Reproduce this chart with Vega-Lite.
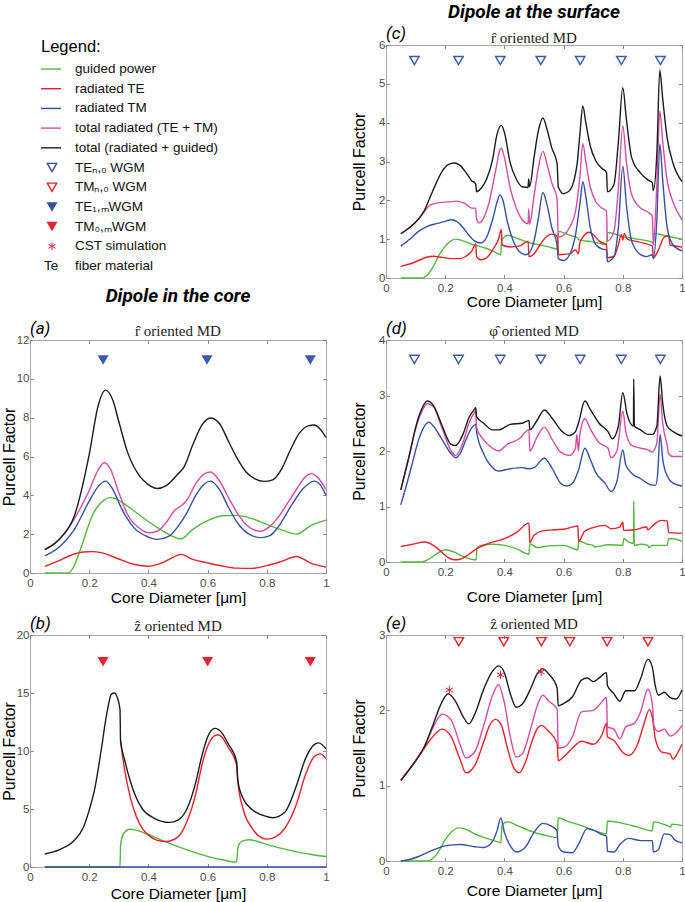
{
"$schema": "https://vega.github.io/schema/vega-lite/v6.json",
"padding": {"left": 0, "top": 2, "right": 0, "bottom": 0},
"background": "white",
"columns": 2,
"bounds": "flush",
"spacing": {"row": 62, "column": 60},
"config": {
  "view": {"stroke": "#a8a8a8", "strokeWidth": 1},
  "axis": {"grid": false, "domain": false, "ticks": true, "tickSize": -3.5, "tickColor": "#8a8a8a", "tickWidth": 1, "labelFont": "Liberation Sans", "labelFontSize": 11.5, "labelColor": "#4d4d4d", "labelPadding": 8, "labelFlush": false, "labelOverlap": false, "titleFont": "Liberation Sans", "titleFontSize": 15.5, "titleFontWeight": "normal", "titleColor": "#000"},
  "axisY": {"titleFontSize": 16, "labelPadding": 4.5},
  "line": {"interpolate": "monotone", "strokeWidth": 1.4},
  "text": {"font": "Liberation Sans"}
},
"datasets": {
"leg": [
{"k":0,"label":"Legend:","kind":"head","c":"k"},
{"k":1,"label":"guided power","kind":"line","c":"g"},
{"k":2,"label":"radiated TE","kind":"line","c":"r"},
{"k":3,"label":"radiated TM","kind":"line","c":"b"},
{"k":4,"label":"total radiated  (TE + TM)","kind":"line","c":"m"},
{"k":5,"label":"total (radiated + guided)","kind":"line","c":"k"},
{"k":6,"label":"TEₙ,₀ WGM","kind":"open","c":"b"},
{"k":7,"label":"TMₙ,₀ WGM","kind":"open","c":"r"},
{"k":8,"label":"TE₁,ₘWGM","kind":"fill","c":"b"},
{"k":9,"label":"TM₀,ₘWGM","kind":"fill","c":"r"},
{"k":10,"label":"CST simulation","kind":"ast","c":"r"},
{"k":11,"label":"fiber material","kind":"te","c":"k"}
],
"c": [
{"s":"g","x":0.05,"y":0},{"s":"g","x":0.12,"y":0},{"s":"g","x":0.14,"y":0.08},{"s":"g","x":0.16,"y":0.3},{"s":"g","x":0.18,"y":0.6},{"s":"g","x":0.2,"y":0.82},{"s":"g","x":0.22,"y":0.96},{"s":"g","x":0.235,"y":1.0},{"s":"g","x":0.25,"y":0.98},{"s":"g","x":0.27,"y":0.93},{"s":"g","x":0.29,"y":0.87},{"s":"g","x":0.305,"y":0.84},{"s":"g","x":0.34,"y":0.76},{"s":"g","x":0.37,"y":0.66},{"s":"g","x":0.388,"y":0.6},{"s":"g","x":0.39,"y":0.95},{"s":"g","x":0.4,"y":1.05},{"s":"g","x":0.41,"y":1.1},{"s":"g","x":0.45,"y":1.0},{"s":"g","x":0.48,"y":0.92},{"s":"g","x":0.52,"y":0.85},{"s":"g","x":0.55,"y":0.8},{"s":"g","x":0.578,"y":0.75},{"s":"g","x":0.582,"y":1.2},{"s":"g","x":0.62,"y":1.1},{"s":"g","x":0.648,"y":1.03},{"s":"g","x":0.652,"y":0.98},{"s":"g","x":0.7,"y":0.93},{"s":"g","x":0.745,"y":0.86},{"s":"g","x":0.748,"y":1.17},{"s":"g","x":0.8,"y":1.07},{"s":"g","x":0.85,"y":1.0},{"s":"g","x":0.9,"y":0.92},{"s":"g","x":0.903,"y":0.88},{"s":"g","x":0.906,"y":1.15},{"s":"g","x":0.95,"y":1.08},{"s":"g","x":1.0,"y":1.0},
{"s":"r","x":0.05,"y":0.3},{"s":"r","x":0.08,"y":0.36},{"s":"r","x":0.11,"y":0.45},{"s":"r","x":0.14,"y":0.54},{"s":"r","x":0.16,"y":0.56},{"s":"r","x":0.19,"y":0.53},{"s":"r","x":0.22,"y":0.5},{"s":"r","x":0.25,"y":0.5},{"s":"r","x":0.27,"y":0.56},{"s":"r","x":0.29,"y":0.7},{"s":"r","x":0.303,"y":0.88},{"s":"r","x":0.306,"y":0.55},{"s":"r","x":0.32,"y":0.47},{"s":"r","x":0.34,"y":0.52},{"s":"r","x":0.36,"y":0.72},{"s":"r","x":0.38,"y":1.0},{"s":"r","x":0.39,"y":1.25},{"s":"r","x":0.392,"y":0.85},{"s":"r","x":0.42,"y":0.8},{"s":"r","x":0.45,"y":0.82},{"s":"r","x":0.48,"y":0.95},{"s":"r","x":0.483,"y":0.55},{"s":"r","x":0.5,"y":0.62},{"s":"r","x":0.52,"y":0.85},{"s":"r","x":0.54,"y":1.05},{"s":"r","x":0.56,"y":1.13},{"s":"r","x":0.575,"y":1.1},{"s":"r","x":0.58,"y":1.0},{"s":"r","x":0.583,"y":0.6},{"s":"r","x":0.62,"y":0.62},{"s":"r","x":0.64,"y":0.72},{"s":"r","x":0.645,"y":0.68},{"s":"r","x":0.65,"y":0.62},{"s":"r","x":0.655,"y":0.9},{"s":"r","x":0.67,"y":1.1},{"s":"r","x":0.685,"y":1.18},{"s":"r","x":0.7,"y":1.12},{"s":"r","x":0.72,"y":0.95},{"s":"r","x":0.745,"y":0.85},{"s":"r","x":0.748,"y":0.52},{"s":"r","x":0.77,"y":0.56},{"s":"r","x":0.785,"y":0.85},{"s":"r","x":0.795,"y":1.12},{"s":"r","x":0.8,"y":0.98},{"s":"r","x":0.805,"y":1.15},{"s":"r","x":0.815,"y":1.0},{"s":"r","x":0.84,"y":0.95},{"s":"r","x":0.87,"y":0.9},{"s":"r","x":0.9,"y":0.82},{"s":"r","x":0.903,"y":0.52},{"s":"r","x":0.92,"y":0.72},{"s":"r","x":0.94,"y":1.05},{"s":"r","x":0.955,"y":1.08},{"s":"r","x":0.96,"y":0.85},{"s":"r","x":1.0,"y":0.8},
{"s":"b","x":0.05,"y":0.82},{"s":"b","x":0.08,"y":1.0},{"s":"b","x":0.11,"y":1.2},{"s":"b","x":0.14,"y":1.33},{"s":"b","x":0.17,"y":1.4},{"s":"b","x":0.2,"y":1.46},{"s":"b","x":0.22,"y":1.5},{"s":"b","x":0.24,"y":1.45},{"s":"b","x":0.26,"y":1.3},{"s":"b","x":0.28,"y":1.1},{"s":"b","x":0.3,"y":0.95},{"s":"b","x":0.32,"y":0.9},{"s":"b","x":0.34,"y":1.05},{"s":"b","x":0.36,"y":1.5},{"s":"b","x":0.375,"y":1.95},{"s":"b","x":0.385,"y":2.14},{"s":"b","x":0.395,"y":2.0},{"s":"b","x":0.41,"y":1.45},{"s":"b","x":0.43,"y":0.95},{"s":"b","x":0.45,"y":0.68},{"s":"b","x":0.47,"y":0.6},{"s":"b","x":0.48,"y":0.62},{"s":"b","x":0.5,"y":0.95},{"s":"b","x":0.515,"y":1.55},{"s":"b","x":0.53,"y":2.2},{"s":"b","x":0.545,"y":1.85},{"s":"b","x":0.56,"y":1.3},{"s":"b","x":0.578,"y":0.85},{"s":"b","x":0.582,"y":0.5},{"s":"b","x":0.6,"y":0.45},{"s":"b","x":0.62,"y":0.6},{"s":"b","x":0.64,"y":1.1},{"s":"b","x":0.655,"y":1.9},{"s":"b","x":0.665,"y":2.48},{"s":"b","x":0.675,"y":2.1},{"s":"b","x":0.69,"y":1.3},{"s":"b","x":0.71,"y":0.85},{"s":"b","x":0.73,"y":0.75},{"s":"b","x":0.745,"y":0.72},{"s":"b","x":0.748,"y":0.42},{"s":"b","x":0.77,"y":0.55},{"s":"b","x":0.785,"y":1.3},{"s":"b","x":0.8,"y":2.88},{"s":"b","x":0.812,"y":1.9},{"s":"b","x":0.83,"y":0.95},{"s":"b","x":0.86,"y":0.6},{"s":"b","x":0.88,"y":0.55},{"s":"b","x":0.9,"y":0.6},{"s":"b","x":0.903,"y":0.5},{"s":"b","x":0.915,"y":1.5},{"s":"b","x":0.925,"y":3.45},{"s":"b","x":0.935,"y":2.5},{"s":"b","x":0.95,"y":1.3},{"s":"b","x":0.97,"y":0.85},{"s":"b","x":1.0,"y":0.7},
{"s":"m","x":0.05,"y":1.14},{"s":"m","x":0.08,"y":1.3},{"s":"m","x":0.11,"y":1.52},{"s":"m","x":0.13,"y":1.72},{"s":"m","x":0.15,"y":1.88},{"s":"m","x":0.18,"y":1.94},{"s":"m","x":0.21,"y":1.96},{"s":"m","x":0.24,"y":1.98},{"s":"m","x":0.27,"y":1.9},{"s":"m","x":0.29,"y":1.8},{"s":"m","x":0.303,"y":1.8},{"s":"m","x":0.306,"y":1.52},{"s":"m","x":0.315,"y":1.42},{"s":"m","x":0.33,"y":1.55},{"s":"m","x":0.35,"y":2.0},{"s":"m","x":0.37,"y":2.75},{"s":"m","x":0.385,"y":3.3},{"s":"m","x":0.39,"y":3.34},{"s":"m","x":0.4,"y":3.1},{"s":"m","x":0.42,"y":2.3},{"s":"m","x":0.44,"y":1.8},{"s":"m","x":0.46,"y":1.5},{"s":"m","x":0.48,"y":1.4},{"s":"m","x":0.482,"y":1.78},{"s":"m","x":0.485,"y":1.38},{"s":"m","x":0.5,"y":2.1},{"s":"m","x":0.515,"y":2.85},{"s":"m","x":0.53,"y":3.26},{"s":"m","x":0.545,"y":2.9},{"s":"m","x":0.56,"y":2.45},{"s":"m","x":0.578,"y":2.05},{"s":"m","x":0.582,"y":1.05},{"s":"m","x":0.6,"y":1.1},{"s":"m","x":0.62,"y":1.3},{"s":"m","x":0.64,"y":1.7},{"s":"m","x":0.655,"y":2.6},{"s":"m","x":0.665,"y":3.46},{"s":"m","x":0.675,"y":3.0},{"s":"m","x":0.69,"y":2.35},{"s":"m","x":0.71,"y":1.95},{"s":"m","x":0.73,"y":1.8},{"s":"m","x":0.745,"y":1.72},{"s":"m","x":0.748,"y":0.95},{"s":"m","x":0.77,"y":1.2},{"s":"m","x":0.785,"y":2.3},{"s":"m","x":0.8,"y":3.92},{"s":"m","x":0.812,"y":3.0},{"s":"m","x":0.83,"y":2.15},{"s":"m","x":0.86,"y":1.8},{"s":"m","x":0.89,"y":1.67},{"s":"m","x":0.9,"y":1.58},{"s":"m","x":0.903,"y":0.85},{"s":"m","x":0.915,"y":2.4},{"s":"m","x":0.925,"y":4.3},{"s":"m","x":0.935,"y":3.5},{"s":"m","x":0.95,"y":2.5},{"s":"m","x":0.97,"y":1.95},{"s":"m","x":1.0,"y":1.5},
{"s":"k","x":0.05,"y":1.14},{"s":"k","x":0.08,"y":1.3},{"s":"k","x":0.11,"y":1.52},{"s":"k","x":0.13,"y":1.74},{"s":"k","x":0.15,"y":2.1},{"s":"k","x":0.17,"y":2.45},{"s":"k","x":0.19,"y":2.75},{"s":"k","x":0.21,"y":2.92},{"s":"k","x":0.23,"y":2.96},{"s":"k","x":0.25,"y":2.9},{"s":"k","x":0.27,"y":2.72},{"s":"k","x":0.29,"y":2.5},{"s":"k","x":0.3,"y":2.45},{"s":"k","x":0.303,"y":2.42},{"s":"k","x":0.306,"y":2.22},{"s":"k","x":0.32,"y":2.3},{"s":"k","x":0.34,"y":2.55},{"s":"k","x":0.36,"y":3.05},{"s":"k","x":0.375,"y":3.7},{"s":"k","x":0.39,"y":3.93},{"s":"k","x":0.4,"y":3.75},{"s":"k","x":0.42,"y":2.95},{"s":"k","x":0.44,"y":2.55},{"s":"k","x":0.46,"y":2.35},{"s":"k","x":0.48,"y":2.33},{"s":"k","x":0.482,"y":2.55},{"s":"k","x":0.485,"y":2.35},{"s":"k","x":0.5,"y":3.1},{"s":"k","x":0.515,"y":3.8},{"s":"k","x":0.53,"y":4.12},{"s":"k","x":0.545,"y":3.8},{"s":"k","x":0.56,"y":3.35},{"s":"k","x":0.578,"y":2.95},{"s":"k","x":0.582,"y":2.35},{"s":"k","x":0.6,"y":2.17},{"s":"k","x":0.62,"y":2.25},{"s":"k","x":0.645,"y":2.9},{"s":"k","x":0.655,"y":3.7},{"s":"k","x":0.665,"y":4.43},{"s":"k","x":0.675,"y":4.0},{"s":"k","x":0.69,"y":3.4},{"s":"k","x":0.71,"y":3.0},{"s":"k","x":0.73,"y":2.82},{"s":"k","x":0.745,"y":2.72},{"s":"k","x":0.748,"y":2.22},{"s":"k","x":0.77,"y":2.4},{"s":"k","x":0.785,"y":3.5},{"s":"k","x":0.8,"y":4.9},{"s":"k","x":0.812,"y":4.1},{"s":"k","x":0.83,"y":3.1},{"s":"k","x":0.86,"y":2.7},{"s":"k","x":0.89,"y":2.5},{"s":"k","x":0.9,"y":2.45},{"s":"k","x":0.903,"y":2.25},{"s":"k","x":0.915,"y":3.2},{"s":"k","x":0.925,"y":5.35},{"s":"k","x":0.935,"y":4.6},{"s":"k","x":0.95,"y":3.6},{"s":"k","x":0.97,"y":2.95},{"s":"k","x":1.0,"y":2.48}
],
"a": [
{"s":"g","x":0.05,"y":0},{"s":"g","x":0.13,"y":0},{"s":"g","x":0.15,"y":0.4},{"s":"g","x":0.17,"y":1.2},{"s":"g","x":0.19,"y":2.1},{"s":"g","x":0.21,"y":2.95},{"s":"g","x":0.23,"y":3.45},{"s":"g","x":0.25,"y":3.75},{"s":"g","x":0.27,"y":3.88},{"s":"g","x":0.29,"y":3.82},{"s":"g","x":0.32,"y":3.55},{"s":"g","x":0.36,"y":3.1},{"s":"g","x":0.4,"y":2.65},{"s":"g","x":0.45,"y":2.15},{"s":"g","x":0.48,"y":1.9},{"s":"g","x":0.51,"y":1.76},{"s":"g","x":0.55,"y":2.25},{"s":"g","x":0.6,"y":2.7},{"s":"g","x":0.65,"y":2.95},{"s":"g","x":0.7,"y":2.97},{"s":"g","x":0.75,"y":2.8},{"s":"g","x":0.8,"y":2.5},{"s":"g","x":0.85,"y":2.22},{"s":"g","x":0.9,"y":2.0},{"s":"g","x":0.95,"y":2.45},{"s":"g","x":1.0,"y":2.72},
{"s":"r","x":0.05,"y":0.34},{"s":"r","x":0.1,"y":0.65},{"s":"r","x":0.15,"y":0.98},{"s":"r","x":0.18,"y":1.08},{"s":"r","x":0.21,"y":1.1},{"s":"r","x":0.24,"y":1.05},{"s":"r","x":0.27,"y":0.9},{"s":"r","x":0.3,"y":0.72},{"s":"r","x":0.35,"y":0.45},{"s":"r","x":0.4,"y":0.35},{"s":"r","x":0.45,"y":0.55},{"s":"r","x":0.5,"y":0.92},{"s":"r","x":0.51,"y":0.96},{"s":"r","x":0.55,"y":0.7},{"s":"r","x":0.6,"y":0.52},{"s":"r","x":0.65,"y":0.36},{"s":"r","x":0.7,"y":0.25},{"s":"r","x":0.75,"y":0.24},{"s":"r","x":0.8,"y":0.38},{"s":"r","x":0.85,"y":0.6},{"s":"r","x":0.9,"y":0.85},{"s":"r","x":0.95,"y":0.5},{"s":"r","x":1.0,"y":0.3},
{"s":"b","x":0.05,"y":0.88},{"s":"b","x":0.1,"y":1.35},{"s":"b","x":0.15,"y":2.25},{"s":"b","x":0.2,"y":3.7},{"s":"b","x":0.23,"y":4.45},{"s":"b","x":0.255,"y":4.73},{"s":"b","x":0.28,"y":4.3},{"s":"b","x":0.31,"y":3.3},{"s":"b","x":0.35,"y":2.35},{"s":"b","x":0.4,"y":1.85},{"s":"b","x":0.43,"y":1.73},{"s":"b","x":0.47,"y":1.9},{"s":"b","x":0.5,"y":2.4},{"s":"b","x":0.53,"y":3.1},{"s":"b","x":0.56,"y":4.0},{"s":"b","x":0.59,"y":4.6},{"s":"b","x":0.61,"y":4.73},{"s":"b","x":0.64,"y":4.3},{"s":"b","x":0.67,"y":3.4},{"s":"b","x":0.7,"y":2.6},{"s":"b","x":0.74,"y":2.0},{"s":"b","x":0.78,"y":1.82},{"s":"b","x":0.81,"y":1.92},{"s":"b","x":0.84,"y":2.4},{"s":"b","x":0.88,"y":3.4},{"s":"b","x":0.92,"y":4.3},{"s":"b","x":0.96,"y":4.73},{"s":"b","x":0.98,"y":4.55},{"s":"b","x":1.0,"y":4.0},
{"s":"m","x":0.05,"y":1.2},{"s":"m","x":0.1,"y":1.75},{"s":"m","x":0.15,"y":2.8},{"s":"m","x":0.2,"y":4.25},{"s":"m","x":0.23,"y":5.3},{"s":"m","x":0.25,"y":5.68},{"s":"m","x":0.27,"y":5.4},{"s":"m","x":0.3,"y":4.15},{"s":"m","x":0.33,"y":3.0},{"s":"m","x":0.37,"y":2.3},{"s":"m","x":0.4,"y":2.07},{"s":"m","x":0.43,"y":2.15},{"s":"m","x":0.46,"y":2.6},{"s":"m","x":0.49,"y":3.25},{"s":"m","x":0.51,"y":3.45},{"s":"m","x":0.53,"y":3.75},{"s":"m","x":0.56,"y":4.6},{"s":"m","x":0.59,"y":5.12},{"s":"m","x":0.61,"y":5.2},{"s":"m","x":0.64,"y":4.75},{"s":"m","x":0.67,"y":3.9},{"s":"m","x":0.7,"y":3.1},{"s":"m","x":0.73,"y":2.5},{"s":"m","x":0.76,"y":2.2},{"s":"m","x":0.78,"y":2.15},{"s":"m","x":0.81,"y":2.4},{"s":"m","x":0.84,"y":2.9},{"s":"m","x":0.87,"y":3.6},{"s":"m","x":0.9,"y":4.3},{"s":"m","x":0.93,"y":4.95},{"s":"m","x":0.95,"y":5.12},{"s":"m","x":0.97,"y":4.95},{"s":"m","x":1.0,"y":4.3},
{"s":"k","x":0.05,"y":1.2},{"s":"k","x":0.1,"y":1.75},{"s":"k","x":0.15,"y":2.95},{"s":"k","x":0.2,"y":6.1},{"s":"k","x":0.23,"y":8.6},{"s":"k","x":0.255,"y":9.42},{"s":"k","x":0.28,"y":8.9},{"s":"k","x":0.3,"y":7.8},{"s":"k","x":0.33,"y":6.2},{"s":"k","x":0.37,"y":5.0},{"s":"k","x":0.4,"y":4.55},{"s":"k","x":0.43,"y":4.35},{"s":"k","x":0.46,"y":4.5},{"s":"k","x":0.5,"y":5.1},{"s":"k","x":0.52,"y":5.45},{"s":"k","x":0.55,"y":6.6},{"s":"k","x":0.58,"y":7.6},{"s":"k","x":0.61,"y":7.98},{"s":"k","x":0.64,"y":7.7},{"s":"k","x":0.67,"y":6.8},{"s":"k","x":0.7,"y":5.9},{"s":"k","x":0.73,"y":5.2},{"s":"k","x":0.76,"y":4.85},{"s":"k","x":0.79,"y":4.72},{"s":"k","x":0.82,"y":4.8},{"s":"k","x":0.85,"y":5.35},{"s":"k","x":0.88,"y":6.35},{"s":"k","x":0.91,"y":7.2},{"s":"k","x":0.94,"y":7.58},{"s":"k","x":0.96,"y":7.62},{"s":"k","x":0.98,"y":7.42},{"s":"k","x":1.0,"y":6.98}
],
"b": [
{"s":"g","x":0.05,"y":0},{"s":"g","x":0.304,"y":0},{"s":"g","x":0.306,"y":1.8},{"s":"g","x":0.31,"y":2.5},{"s":"g","x":0.32,"y":3.0},{"s":"g","x":0.335,"y":3.25},{"s":"g","x":0.35,"y":3.22},{"s":"g","x":0.4,"y":2.8},{"s":"g","x":0.45,"y":2.25},{"s":"g","x":0.5,"y":1.75},{"s":"g","x":0.55,"y":1.3},{"s":"g","x":0.6,"y":0.92},{"s":"g","x":0.65,"y":0.62},{"s":"g","x":0.698,"y":0.42},{"s":"g","x":0.702,"y":1.6},{"s":"g","x":0.71,"y":2.1},{"s":"g","x":0.725,"y":2.3},{"s":"g","x":0.74,"y":2.35},{"s":"g","x":0.77,"y":2.2},{"s":"g","x":0.8,"y":1.95},{"s":"g","x":0.85,"y":1.6},{"s":"g","x":0.9,"y":1.3},{"s":"g","x":0.95,"y":1.08},{"s":"g","x":1.0,"y":0.9},
{"s":"r","x":0.306,"y":10.85},{"s":"r","x":0.32,"y":8.3},{"s":"r","x":0.34,"y":5.9},{"s":"r","x":0.36,"y":4.3},{"s":"r","x":0.38,"y":3.3},{"s":"r","x":0.4,"y":2.75},{"s":"r","x":0.43,"y":2.3},{"s":"r","x":0.46,"y":2.2},{"s":"r","x":0.5,"y":2.6},{"s":"r","x":0.53,"y":3.9},{"s":"r","x":0.56,"y":6.3},{"s":"r","x":0.58,"y":8.7},{"s":"r","x":0.6,"y":10.4},{"s":"r","x":0.62,"y":11.25},{"s":"r","x":0.635,"y":11.4},{"s":"r","x":0.65,"y":11.15},{"s":"r","x":0.67,"y":10.3},{"s":"r","x":0.698,"y":8.8},{"s":"r","x":0.702,"y":7.4},{"s":"r","x":0.72,"y":5.0},{"s":"r","x":0.75,"y":3.35},{"s":"r","x":0.78,"y":2.55},{"s":"r","x":0.8,"y":2.4},{"s":"r","x":0.83,"y":2.6},{"s":"r","x":0.86,"y":3.3},{"s":"r","x":0.9,"y":5.4},{"s":"r","x":0.93,"y":7.9},{"s":"r","x":0.96,"y":9.5},{"s":"r","x":0.98,"y":9.75},{"s":"r","x":1.0,"y":9.35},
{"s":"b","x":0.05,"y":0},{"s":"b","x":1.0,"y":0},
{"s":"k","x":0.05,"y":1.12},{"s":"k","x":0.1,"y":1.5},{"s":"k","x":0.15,"y":2.3},{"s":"k","x":0.18,"y":3.4},{"s":"k","x":0.2,"y":4.9},{"s":"k","x":0.22,"y":6.9},{"s":"k","x":0.24,"y":10.0},{"s":"k","x":0.26,"y":13.3},{"s":"k","x":0.275,"y":14.9},{"s":"k","x":0.285,"y":15.0},{"s":"k","x":0.295,"y":14.6},{"s":"k","x":0.304,"y":13.6},{"s":"k","x":0.306,"y":10.9},{"s":"k","x":0.32,"y":9.2},{"s":"k","x":0.34,"y":7.3},{"s":"k","x":0.36,"y":5.9},{"s":"k","x":0.38,"y":5.0},{"s":"k","x":0.42,"y":4.2},{"s":"k","x":0.47,"y":3.85},{"s":"k","x":0.5,"y":4.05},{"s":"k","x":0.53,"y":5.0},{"s":"k","x":0.56,"y":7.3},{"s":"k","x":0.58,"y":9.5},{"s":"k","x":0.6,"y":11.2},{"s":"k","x":0.625,"y":11.95},{"s":"k","x":0.65,"y":11.5},{"s":"k","x":0.67,"y":10.6},{"s":"k","x":0.698,"y":9.1},{"s":"k","x":0.702,"y":7.5},{"s":"k","x":0.72,"y":5.9},{"s":"k","x":0.75,"y":4.95},{"s":"k","x":0.8,"y":4.35},{"s":"k","x":0.82,"y":4.25},{"s":"k","x":0.86,"y":4.7},{"s":"k","x":0.9,"y":7.0},{"s":"k","x":0.93,"y":9.3},{"s":"k","x":0.96,"y":10.55},{"s":"k","x":0.975,"y":10.7},{"s":"k","x":1.0,"y":10.2}
],
"d": [
{"s":"g","x":0.05,"y":0},{"s":"g","x":0.12,"y":0},{"s":"g","x":0.15,"y":0.07},{"s":"g","x":0.18,"y":0.18},{"s":"g","x":0.2,"y":0.22},{"s":"g","x":0.23,"y":0.18},{"s":"g","x":0.26,"y":0.1},{"s":"g","x":0.3,"y":0.04},{"s":"g","x":0.305,"y":0.04},{"s":"g","x":0.307,"y":0.25},{"s":"g","x":0.32,"y":0.3},{"s":"g","x":0.36,"y":0.32},{"s":"g","x":0.4,"y":0.3},{"s":"g","x":0.44,"y":0.24},{"s":"g","x":0.483,"y":0.14},{"s":"g","x":0.486,"y":0.33},{"s":"g","x":0.51,"y":0.26},{"s":"g","x":0.55,"y":0.29},{"s":"g","x":0.6,"y":0.3},{"s":"g","x":0.648,"y":0.22},{"s":"g","x":0.651,"y":0.38},{"s":"g","x":0.68,"y":0.32},{"s":"g","x":0.7,"y":0.3},{"s":"g","x":0.705,"y":0.27},{"s":"g","x":0.75,"y":0.31},{"s":"g","x":0.8,"y":0.3},{"s":"g","x":0.803,"y":0.42},{"s":"g","x":0.82,"y":0.36},{"s":"g","x":0.836,"y":0.33},{"s":"g","x":0.837,"y":1.1},{"s":"g","x":0.839,"y":0.3},{"s":"g","x":0.86,"y":0.32},{"s":"g","x":0.885,"y":0.3},{"s":"g","x":0.887,"y":0.26},{"s":"g","x":0.9,"y":0.3},{"s":"g","x":0.95,"y":0.3},{"s":"g","x":0.955,"y":0.42},{"s":"g","x":0.97,"y":0.42},{"s":"g","x":1.0,"y":0.37},
{"s":"r","x":0.05,"y":0.28},{"s":"r","x":0.09,"y":0.32},{"s":"r","x":0.13,"y":0.36},{"s":"r","x":0.16,"y":0.3},{"s":"r","x":0.19,"y":0.17},{"s":"r","x":0.21,"y":0.08},{"s":"r","x":0.23,"y":0.04},{"s":"r","x":0.25,"y":0.05},{"s":"r","x":0.28,"y":0.14},{"s":"r","x":0.31,"y":0.25},{"s":"r","x":0.35,"y":0.34},{"s":"r","x":0.4,"y":0.42},{"s":"r","x":0.44,"y":0.53},{"s":"r","x":0.483,"y":0.7},{"s":"r","x":0.486,"y":0.35},{"s":"r","x":0.5,"y":0.48},{"s":"r","x":0.53,"y":0.56},{"s":"r","x":0.57,"y":0.58},{"s":"r","x":0.61,"y":0.6},{"s":"r","x":0.648,"y":0.65},{"s":"r","x":0.651,"y":0.37},{"s":"r","x":0.67,"y":0.55},{"s":"r","x":0.7,"y":0.62},{"s":"r","x":0.74,"y":0.66},{"s":"r","x":0.76,"y":0.6},{"s":"r","x":0.79,"y":0.63},{"s":"r","x":0.8,"y":0.72},{"s":"r","x":0.803,"y":0.57},{"s":"r","x":0.84,"y":0.58},{"s":"r","x":0.88,"y":0.63},{"s":"r","x":0.885,"y":0.58},{"s":"r","x":0.9,"y":0.65},{"s":"r","x":0.93,"y":0.75},{"s":"r","x":0.95,"y":0.74},{"s":"r","x":0.955,"y":0.53},{"s":"r","x":1.0,"y":0.52},
{"s":"b","x":0.05,"y":1.03},{"s":"b","x":0.07,"y":1.4},{"s":"b","x":0.09,"y":1.8},{"s":"b","x":0.11,"y":2.2},{"s":"b","x":0.13,"y":2.45},{"s":"b","x":0.145,"y":2.52},{"s":"b","x":0.16,"y":2.45},{"s":"b","x":0.19,"y":2.2},{"s":"b","x":0.22,"y":1.95},{"s":"b","x":0.235,"y":1.88},{"s":"b","x":0.25,"y":1.95},{"s":"b","x":0.27,"y":2.2},{"s":"b","x":0.29,"y":2.42},{"s":"b","x":0.303,"y":2.48},{"s":"b","x":0.306,"y":2.35},{"s":"b","x":0.33,"y":1.95},{"s":"b","x":0.36,"y":1.7},{"s":"b","x":0.38,"y":1.64},{"s":"b","x":0.42,"y":1.68},{"s":"b","x":0.46,"y":1.7},{"s":"b","x":0.483,"y":1.68},{"s":"b","x":0.5,"y":1.7},{"s":"b","x":0.535,"y":1.87},{"s":"b","x":0.56,"y":1.7},{"s":"b","x":0.59,"y":1.42},{"s":"b","x":0.61,"y":1.37},{"s":"b","x":0.63,"y":1.42},{"s":"b","x":0.65,"y":1.65},{"s":"b","x":0.672,"y":2.05},{"s":"b","x":0.69,"y":1.85},{"s":"b","x":0.71,"y":1.6},{"s":"b","x":0.74,"y":1.42},{"s":"b","x":0.76,"y":1.27},{"s":"b","x":0.78,"y":1.45},{"s":"b","x":0.8,"y":2.02},{"s":"b","x":0.81,"y":1.75},{"s":"b","x":0.83,"y":1.6},{"s":"b","x":0.86,"y":1.5},{"s":"b","x":0.89,"y":1.4},{"s":"b","x":0.91,"y":1.38},{"s":"b","x":0.918,"y":1.6},{"s":"b","x":0.926,"y":2.3},{"s":"b","x":0.935,"y":1.85},{"s":"b","x":0.95,"y":1.55},{"s":"b","x":0.97,"y":1.42},{"s":"b","x":1.0,"y":1.37},
{"s":"m","x":0.05,"y":1.3},{"s":"m","x":0.08,"y":1.95},{"s":"m","x":0.1,"y":2.4},{"s":"m","x":0.12,"y":2.7},{"s":"m","x":0.14,"y":2.85},{"s":"m","x":0.16,"y":2.8},{"s":"m","x":0.19,"y":2.4},{"s":"m","x":0.22,"y":2.0},{"s":"m","x":0.235,"y":1.92},{"s":"m","x":0.26,"y":2.15},{"s":"m","x":0.28,"y":2.5},{"s":"m","x":0.3,"y":2.7},{"s":"m","x":0.303,"y":2.72},{"s":"m","x":0.306,"y":2.42},{"s":"m","x":0.33,"y":2.2},{"s":"m","x":0.36,"y":2.05},{"s":"m","x":0.38,"y":2.0},{"s":"m","x":0.41,"y":2.12},{"s":"m","x":0.45,"y":2.22},{"s":"m","x":0.483,"y":2.38},{"s":"m","x":0.486,"y":2.0},{"s":"m","x":0.51,"y":2.25},{"s":"m","x":0.535,"y":2.43},{"s":"m","x":0.56,"y":2.22},{"s":"m","x":0.59,"y":1.98},{"s":"m","x":0.62,"y":1.92},{"s":"m","x":0.64,"y":2.05},{"s":"m","x":0.645,"y":2.3},{"s":"m","x":0.65,"y":2.0},{"s":"m","x":0.655,"y":2.3},{"s":"m","x":0.672,"y":2.58},{"s":"m","x":0.69,"y":2.4},{"s":"m","x":0.72,"y":2.15},{"s":"m","x":0.75,"y":2.05},{"s":"m","x":0.76,"y":1.88},{"s":"m","x":0.78,"y":2.0},{"s":"m","x":0.8,"y":2.72},{"s":"m","x":0.81,"y":2.35},{"s":"m","x":0.83,"y":2.1},{"s":"m","x":0.86,"y":2.05},{"s":"m","x":0.885,"y":2.02},{"s":"m","x":0.9,"y":1.98},{"s":"m","x":0.915,"y":2.15},{"s":"m","x":0.926,"y":3.02},{"s":"m","x":0.935,"y":2.5},{"s":"m","x":0.95,"y":2.1},{"s":"m","x":0.955,"y":1.95},{"s":"m","x":0.97,"y":1.9},{"s":"m","x":1.0,"y":1.9},
{"s":"k","x":0.05,"y":1.3},{"s":"k","x":0.08,"y":1.95},{"s":"k","x":0.1,"y":2.42},{"s":"k","x":0.12,"y":2.75},{"s":"k","x":0.14,"y":2.9},{"s":"k","x":0.16,"y":2.82},{"s":"k","x":0.19,"y":2.45},{"s":"k","x":0.22,"y":2.12},{"s":"k","x":0.235,"y":2.1},{"s":"k","x":0.26,"y":2.3},{"s":"k","x":0.28,"y":2.6},{"s":"k","x":0.3,"y":2.76},{"s":"k","x":0.303,"y":2.78},{"s":"k","x":0.306,"y":2.62},{"s":"k","x":0.33,"y":2.5},{"s":"k","x":0.36,"y":2.38},{"s":"k","x":0.38,"y":2.38},{"s":"k","x":0.42,"y":2.48},{"s":"k","x":0.46,"y":2.5},{"s":"k","x":0.483,"y":2.55},{"s":"k","x":0.486,"y":2.38},{"s":"k","x":0.51,"y":2.55},{"s":"k","x":0.535,"y":2.74},{"s":"k","x":0.56,"y":2.6},{"s":"k","x":0.59,"y":2.38},{"s":"k","x":0.62,"y":2.28},{"s":"k","x":0.64,"y":2.35},{"s":"k","x":0.65,"y":2.5},{"s":"k","x":0.672,"y":2.9},{"s":"k","x":0.69,"y":2.75},{"s":"k","x":0.72,"y":2.5},{"s":"k","x":0.75,"y":2.35},{"s":"k","x":0.765,"y":2.22},{"s":"k","x":0.785,"y":2.45},{"s":"k","x":0.8,"y":3.05},{"s":"k","x":0.815,"y":2.65},{"s":"k","x":0.836,"y":2.45},{"s":"k","x":0.837,"y":3.3},{"s":"k","x":0.839,"y":2.45},{"s":"k","x":0.86,"y":2.38},{"s":"k","x":0.885,"y":2.3},{"s":"k","x":0.9,"y":2.3},{"s":"k","x":0.915,"y":2.45},{"s":"k","x":0.926,"y":3.35},{"s":"k","x":0.935,"y":2.85},{"s":"k","x":0.95,"y":2.45},{"s":"k","x":0.97,"y":2.35},{"s":"k","x":1.0,"y":2.27}
],
"e": [
{"s":"g","x":0.05,"y":0},{"s":"g","x":0.14,"y":0},{"s":"g","x":0.16,"y":0.04},{"s":"g","x":0.18,"y":0.14},{"s":"g","x":0.2,"y":0.28},{"s":"g","x":0.22,"y":0.38},{"s":"g","x":0.245,"y":0.44},{"s":"g","x":0.27,"y":0.42},{"s":"g","x":0.3,"y":0.36},{"s":"g","x":0.34,"y":0.3},{"s":"g","x":0.38,"y":0.25},{"s":"g","x":0.388,"y":0.24},{"s":"g","x":0.392,"y":0.48},{"s":"g","x":0.41,"y":0.52},{"s":"g","x":0.45,"y":0.46},{"s":"g","x":0.5,"y":0.38},{"s":"g","x":0.55,"y":0.33},{"s":"g","x":0.578,"y":0.31},{"s":"g","x":0.582,"y":0.57},{"s":"g","x":0.62,"y":0.52},{"s":"g","x":0.66,"y":0.47},{"s":"g","x":0.7,"y":0.41},{"s":"g","x":0.745,"y":0.36},{"s":"g","x":0.748,"y":0.53},{"s":"g","x":0.8,"y":0.5},{"s":"g","x":0.85,"y":0.45},{"s":"g","x":0.9,"y":0.4},{"s":"g","x":0.903,"y":0.52},{"s":"g","x":0.95,"y":0.47},{"s":"g","x":0.962,"y":0.45},{"s":"g","x":0.965,"y":0.49},{"s":"g","x":1.0,"y":0.47},
{"s":"r","x":0.05,"y":1.07},{"s":"r","x":0.1,"y":1.33},{"s":"r","x":0.13,"y":1.5},{"s":"r","x":0.16,"y":1.66},{"s":"r","x":0.19,"y":1.75},{"s":"r","x":0.22,"y":1.65},{"s":"r","x":0.25,"y":1.35},{"s":"r","x":0.27,"y":1.17},{"s":"r","x":0.3,"y":1.27},{"s":"r","x":0.33,"y":1.58},{"s":"r","x":0.35,"y":1.8},{"s":"r","x":0.37,"y":1.88},{"s":"r","x":0.39,"y":1.8},{"s":"r","x":0.41,"y":1.5},{"s":"r","x":0.43,"y":1.25},{"s":"r","x":0.45,"y":1.17},{"s":"r","x":0.47,"y":1.3},{"s":"r","x":0.49,"y":1.55},{"s":"r","x":0.51,"y":1.75},{"s":"r","x":0.525,"y":1.8},{"s":"r","x":0.55,"y":1.72},{"s":"r","x":0.578,"y":1.56},{"s":"r","x":0.582,"y":1.33},{"s":"r","x":0.6,"y":1.38},{"s":"r","x":0.63,"y":1.5},{"s":"r","x":0.66,"y":1.59},{"s":"r","x":0.7,"y":1.55},{"s":"r","x":0.73,"y":1.68},{"s":"r","x":0.745,"y":1.83},{"s":"r","x":0.748,"y":1.65},{"s":"r","x":0.77,"y":1.6},{"s":"r","x":0.8,"y":1.44},{"s":"r","x":0.82,"y":1.4},{"s":"r","x":0.85,"y":1.55},{"s":"r","x":0.87,"y":1.8},{"s":"r","x":0.89,"y":2.01},{"s":"r","x":0.9,"y":1.9},{"s":"r","x":0.91,"y":1.62},{"s":"r","x":0.93,"y":1.45},{"s":"r","x":0.96,"y":1.42},{"s":"r","x":0.97,"y":1.35},{"s":"r","x":0.98,"y":1.4},{"s":"r","x":1.0,"y":1.55},
{"s":"b","x":0.05,"y":0.0},{"s":"b","x":0.08,"y":0.02},{"s":"b","x":0.11,"y":0.06},{"s":"b","x":0.15,"y":0.13},{"s":"b","x":0.2,"y":0.2},{"s":"b","x":0.25,"y":0.22},{"s":"b","x":0.3,"y":0.19},{"s":"b","x":0.33,"y":0.18},{"s":"b","x":0.36,"y":0.26},{"s":"b","x":0.375,"y":0.4},{"s":"b","x":0.388,"y":0.57},{"s":"b","x":0.4,"y":0.38},{"s":"b","x":0.42,"y":0.2},{"s":"b","x":0.44,"y":0.12},{"s":"b","x":0.47,"y":0.18},{"s":"b","x":0.5,"y":0.38},{"s":"b","x":0.53,"y":0.5},{"s":"b","x":0.56,"y":0.46},{"s":"b","x":0.578,"y":0.4},{"s":"b","x":0.582,"y":0.2},{"s":"b","x":0.6,"y":0.12},{"s":"b","x":0.63,"y":0.11},{"s":"b","x":0.65,"y":0.22},{"s":"b","x":0.68,"y":0.43},{"s":"b","x":0.7,"y":0.41},{"s":"b","x":0.73,"y":0.35},{"s":"b","x":0.745,"y":0.33},{"s":"b","x":0.748,"y":0.13},{"s":"b","x":0.77,"y":0.12},{"s":"b","x":0.79,"y":0.22},{"s":"b","x":0.82,"y":0.3},{"s":"b","x":0.86,"y":0.27},{"s":"b","x":0.9,"y":0.27},{"s":"b","x":0.903,"y":0.12},{"s":"b","x":0.92,"y":0.15},{"s":"b","x":0.94,"y":0.36},{"s":"b","x":0.96,"y":0.35},{"s":"b","x":0.975,"y":0.28},{"s":"b","x":1.0,"y":0.24},
{"s":"m","x":0.05,"y":1.07},{"s":"m","x":0.1,"y":1.33},{"s":"m","x":0.13,"y":1.52},{"s":"m","x":0.16,"y":1.78},{"s":"m","x":0.19,"y":1.95},{"s":"m","x":0.22,"y":1.87},{"s":"m","x":0.25,"y":1.55},{"s":"m","x":0.27,"y":1.37},{"s":"m","x":0.3,"y":1.45},{"s":"m","x":0.33,"y":1.8},{"s":"m","x":0.36,"y":2.2},{"s":"m","x":0.38,"y":2.34},{"s":"m","x":0.4,"y":2.1},{"s":"m","x":0.42,"y":1.65},{"s":"m","x":0.44,"y":1.38},{"s":"m","x":0.46,"y":1.42},{"s":"m","x":0.49,"y":1.77},{"s":"m","x":0.51,"y":2.05},{"s":"m","x":0.53,"y":2.2},{"s":"m","x":0.55,"y":2.12},{"s":"m","x":0.578,"y":2.02},{"s":"m","x":0.582,"y":1.5},{"s":"m","x":0.6,"y":1.51},{"s":"m","x":0.63,"y":1.65},{"s":"m","x":0.66,"y":1.98},{"s":"m","x":0.7,"y":2.0},{"s":"m","x":0.72,"y":2.07},{"s":"m","x":0.745,"y":2.17},{"s":"m","x":0.748,"y":1.78},{"s":"m","x":0.77,"y":1.75},{"s":"m","x":0.79,"y":1.62},{"s":"m","x":0.81,"y":1.78},{"s":"m","x":0.84,"y":1.83},{"s":"m","x":0.86,"y":1.98},{"s":"m","x":0.885,"y":2.28},{"s":"m","x":0.9,"y":2.08},{"s":"m","x":0.905,"y":1.8},{"s":"m","x":0.92,"y":1.72},{"s":"m","x":0.94,"y":1.75},{"s":"m","x":0.96,"y":1.66},{"s":"m","x":0.98,"y":1.7},{"s":"m","x":1.0,"y":1.8},
{"s":"k","x":0.05,"y":1.07},{"s":"k","x":0.1,"y":1.33},{"s":"k","x":0.13,"y":1.52},{"s":"k","x":0.16,"y":1.82},{"s":"k","x":0.19,"y":2.12},{"s":"k","x":0.21,"y":2.22},{"s":"k","x":0.235,"y":2.12},{"s":"k","x":0.26,"y":1.92},{"s":"k","x":0.28,"y":1.82},{"s":"k","x":0.3,"y":1.95},{"s":"k","x":0.33,"y":2.28},{"s":"k","x":0.36,"y":2.52},{"s":"k","x":0.38,"y":2.59},{"s":"k","x":0.4,"y":2.5},{"s":"k","x":0.42,"y":2.22},{"s":"k","x":0.44,"y":2.04},{"s":"k","x":0.46,"y":2.08},{"s":"k","x":0.49,"y":2.3},{"s":"k","x":0.51,"y":2.48},{"s":"k","x":0.53,"y":2.55},{"s":"k","x":0.55,"y":2.48},{"s":"k","x":0.578,"y":2.3},{"s":"k","x":0.582,"y":2.06},{"s":"k","x":0.6,"y":2.09},{"s":"k","x":0.63,"y":2.18},{"s":"k","x":0.66,"y":2.4},{"s":"k","x":0.68,"y":2.43},{"s":"k","x":0.7,"y":2.38},{"s":"k","x":0.72,"y":2.43},{"s":"k","x":0.745,"y":2.5},{"s":"k","x":0.748,"y":2.33},{"s":"k","x":0.77,"y":2.22},{"s":"k","x":0.79,"y":2.12},{"s":"k","x":0.81,"y":2.26},{"s":"k","x":0.84,"y":2.26},{"s":"k","x":0.86,"y":2.42},{"s":"k","x":0.885,"y":2.68},{"s":"k","x":0.9,"y":2.57},{"s":"k","x":0.91,"y":2.32},{"s":"k","x":0.92,"y":2.2},{"s":"k","x":0.94,"y":2.24},{"s":"k","x":0.96,"y":2.17},{"s":"k","x":0.98,"y":2.15},{"s":"k","x":1.0,"y":2.27}
]
},
"concat": [
{
 "width": 296, "height": 233, "view": {"stroke": null},
 "data": {"name": "leg"},
 "layer": [
  {"transform": [{"filter": "datum.kind == 'line'"}], "mark": {"type": "rule", "strokeWidth": 1.4},
   "encoding": {"x": {"datum": 11, "scale": {"domain": [0, 296]}, "axis": null}, "x2": {"datum": 31}, "y": {"field": "k", "type": "quantitative", "scale": {"domain": [-0.22, 11.61], "reverse": true}, "axis": null}, "color": {"field": "c", "type": "nominal", "scale": {"domain": ["g","r","b","m","k"], "range": ["#55b740","#e8212b","#3651a3","#d64ca6","#1c1c1c"]}, "legend": null}}},
  {"transform": [{"filter": "datum.kind == 'open'"}], "mark": {"type": "point", "shape": "triangle-down", "filled": false, "size": 90, "strokeWidth": 1.4, "opacity": 1},
   "encoding": {"x": {"datum": 22, "scale": {"domain": [0, 296]}, "axis": null}, "y": {"field": "k", "type": "quantitative", "scale": {"domain": [-0.22, 11.61], "reverse": true}, "axis": null}, "color": {"field": "c", "type": "nominal", "legend": null}}},
  {"transform": [{"filter": "datum.kind == 'fill'"}], "mark": {"type": "point", "shape": "triangle-down", "filled": true, "size": 121, "opacity": 1},
   "encoding": {"x": {"datum": 22, "scale": {"domain": [0, 296]}, "axis": null}, "y": {"field": "k", "type": "quantitative", "scale": {"domain": [-0.22, 11.61], "reverse": true}, "axis": null}, "color": {"field": "c", "type": "nominal", "legend": null}}},
  {"transform": [{"filter": "datum.kind == 'ast'"}], "mark": {"type": "point", "shape": "M0,-1L0,1M-0.87,-0.5L0.87,0.5M-0.87,0.5L0.87,-0.5", "filled": false, "size": 64, "strokeWidth": 1, "opacity": 1},
   "encoding": {"x": {"datum": 22, "scale": {"domain": [0, 296]}, "axis": null}, "y": {"field": "k", "type": "quantitative", "scale": {"domain": [-0.22, 11.61], "reverse": true}, "axis": null}, "color": {"field": "c", "type": "nominal", "legend": null}}},
  {"transform": [{"filter": "datum.kind == 'te'"}], "mark": {"type": "text", "text": "Te", "align": "left", "baseline": "middle", "fontSize": 13.5, "color": "#111"},
   "encoding": {"x": {"datum": 14, "scale": {"domain": [0, 296]}, "axis": null}, "y": {"field": "k", "type": "quantitative", "scale": {"domain": [-0.22, 11.61], "reverse": true}, "axis": null}}},
  {"transform": [{"filter": "datum.k > 0"}], "mark": {"type": "text", "align": "left", "baseline": "middle", "fontSize": 13.5, "color": "#111"},
   "encoding": {"x": {"datum": 45, "scale": {"domain": [0, 296]}, "axis": null}, "y": {"field": "k", "type": "quantitative", "scale": {"domain": [-0.22, 11.61], "reverse": true}, "axis": null}, "text": {"field": "label"}}},
  {"transform": [{"filter": "datum.k == 0"}], "mark": {"type": "text", "align": "left", "baseline": "middle", "fontSize": 16.5, "dy": -2, "color": "#000"},
   "encoding": {"x": {"datum": 11, "scale": {"domain": [0, 296]}, "axis": null}, "y": {"field": "k", "type": "quantitative", "scale": {"domain": [-0.22, 11.61], "reverse": true}, "axis": null}, "text": {"field": "label"}}}
 ]
},
{
 "width": 296, "height": 233,
 "title": {"text": "Dipole at the surface", "subtitle": "r̂ oriented MD", "font": "Roboto", "fontSize": 19, "fontWeight": "bold", "fontStyle": "italic", "color": "#000", "subtitleFont": "Liberation Serif", "subtitleFontSize": 15, "subtitleColor": "#222", "subtitlePadding": 9, "offset": -21, "anchor": "middle"},
 "layer": [
  {"data": {"name": "c"}, "mark": {"type": "line"},
   "encoding": {"x": {"field": "x", "type": "quantitative", "scale": {"domain": [0, 1]}, "axis": {"values": [0,0.2,0.4,0.6,0.8,1], "format": "~g", "title": "Core Diameter [μm]", "titlePadding": 0}},
    "y": {"field": "y", "type": "quantitative", "scale": {"domain": [0, 6]}, "axis": {"values": [0,1,2,3,4,5,6], "title": "Purcell Factor", "titlePadding": 11}},
    "color": {"field": "s", "type": "nominal", "scale": {"domain": ["g","r","b","m","k"], "range": ["#55b740","#e8212b","#3651a3","#d64ca6","#1c1c1c"]}, "legend": null}}},
  {"data": {"values": [{"x":0.096,"y":5.6},{"x":0.245,"y":5.6},{"x":0.386,"y":5.6},{"x":0.523,"y":5.6},{"x":0.656,"y":5.6},{"x":0.795,"y":5.6},{"x":0.927,"y":5.6}]},
   "mark": {"type": "point", "shape": "triangle-down", "filled": false, "color": "#3c5bab", "size": 90, "strokeWidth": 1.4, "opacity": 1},
   "encoding": {"x": {"field": "x", "type": "quantitative", "scale": {"domain": [0, 1]}, "axis": {"orient": "top", "labels": false, "title": null, "values": [0,0.2,0.4,0.6,0.8,1]}},
    "y": {"field": "y", "type": "quantitative", "scale": {"domain": [0, 6]}, "axis": {"orient": "right", "labels": false, "title": null, "values": [0,1,2,3,4,5,6]}}}},
  {"data": {"values": [{}]}, "mark": {"type": "text", "text": "(c)", "align": "left", "baseline": "bottom", "font": "Roboto", "fontStyle": "italic", "fontSize": 17, "dy": -2, "color": "#000"},
   "encoding": {"x": {"datum": 0, "axis": null}, "y": {"datum": 6, "axis": null}}}
 ],
 "resolve": {"axis": {"x": "independent", "y": "independent"}}
},
{
 "width": 296, "height": 233,
 "title": {"text": "Dipole in the core", "subtitle": "r̂ oriented MD", "font": "Roboto", "fontSize": 19, "fontWeight": "bold", "fontStyle": "italic", "color": "#000", "subtitleFont": "Liberation Serif", "subtitleFontSize": 15, "subtitleColor": "#222", "subtitlePadding": 18, "offset": -19, "anchor": "middle"},
 "layer": [
  {"data": {"name": "a"}, "mark": {"type": "line"},
   "encoding": {"x": {"field": "x", "type": "quantitative", "scale": {"domain": [0, 1]}, "axis": {"values": [0,0.2,0.4,0.6,0.8,1], "format": "~g", "title": "Core Diameter [μm]", "titlePadding": 1}},
    "y": {"field": "y", "type": "quantitative", "scale": {"domain": [0, 12]}, "axis": {"values": [0,2,4,6,8,10,12], "title": "Purcell Factor", "titlePadding": -1}},
    "color": {"field": "s", "type": "nominal", "scale": {"domain": ["g","r","b","m","k"], "range": ["#55b740","#e8212b","#3651a3","#d64ca6","#1c1c1c"]}, "legend": null}}},
  {"data": {"values": [{"x":0.247,"y":10.97},{"x":0.598,"y":10.97},{"x":0.947,"y":10.97}]},
   "mark": {"type": "point", "shape": "triangle-down", "filled": true, "color": "#3c5bab", "size": 121, "opacity": 1},
   "encoding": {"x": {"field": "x", "type": "quantitative", "scale": {"domain": [0, 1]}, "axis": {"orient": "top", "labels": false, "title": null, "values": [0,0.2,0.4,0.6,0.8,1]}},
    "y": {"field": "y", "type": "quantitative", "scale": {"domain": [0, 12]}, "axis": {"orient": "right", "labels": false, "title": null, "values": [0,2,4,6,8,10,12]}}}},
  {"data": {"values": [{}]}, "mark": {"type": "text", "text": "(a)", "align": "left", "baseline": "bottom", "font": "Roboto", "fontStyle": "italic", "fontSize": 17, "dy": -2, "color": "#000"},
   "encoding": {"x": {"datum": 0, "axis": null}, "y": {"datum": 12, "axis": null}}}
 ],
 "resolve": {"axis": {"x": "independent", "y": "independent"}}
},
{
 "width": 296, "height": 222,
 "title": {"text": "φ̂ oriented MD", "font": "Liberation Serif", "fontSize": 15, "fontWeight": "normal", "color": "#222", "offset": -19, "anchor": "middle"},
 "layer": [
  {"data": {"name": "d"}, "mark": {"type": "line"},
   "encoding": {"x": {"field": "x", "type": "quantitative", "scale": {"domain": [0, 1]}, "axis": {"values": [0,0.2,0.4,0.6,0.8,1], "format": "~g", "title": "Core Diameter [μm]", "titlePadding": 11}},
    "y": {"field": "y", "type": "quantitative", "scale": {"domain": [0, 4]}, "axis": {"values": [0,1,2,3,4], "title": "Purcell Factor", "titlePadding": 11}},
    "color": {"field": "s", "type": "nominal", "scale": {"domain": ["g","r","b","m","k"], "range": ["#55b740","#e8212b","#3651a3","#d64ca6","#1c1c1c"]}, "legend": null}}},
  {"data": {"values": [{"x":0.096,"y":3.65},{"x":0.245,"y":3.65},{"x":0.386,"y":3.65},{"x":0.523,"y":3.65},{"x":0.656,"y":3.65},{"x":0.795,"y":3.65},{"x":0.927,"y":3.65}]},
   "mark": {"type": "point", "shape": "triangle-down", "filled": false, "color": "#3c5bab", "size": 90, "strokeWidth": 1.4, "opacity": 1},
   "encoding": {"x": {"field": "x", "type": "quantitative", "scale": {"domain": [0, 1]}, "axis": {"orient": "top", "labels": false, "title": null, "values": [0,0.2,0.4,0.6,0.8,1]}},
    "y": {"field": "y", "type": "quantitative", "scale": {"domain": [0, 4]}, "axis": {"orient": "right", "labels": false, "title": null, "values": [0,1,2,3,4]}}}},
  {"data": {"values": [{}]}, "mark": {"type": "text", "text": "(d)", "align": "left", "baseline": "bottom", "font": "Roboto", "fontStyle": "italic", "fontSize": 17, "dy": -2, "color": "#000"},
   "encoding": {"x": {"datum": 0, "axis": null}, "y": {"datum": 4, "axis": null}}}
 ],
 "resolve": {"axis": {"x": "independent", "y": "independent"}}
},
{
 "width": 296, "height": 232,
 "title": {"text": "ẑ oriented MD", "font": "Liberation Serif", "fontSize": 15, "fontWeight": "normal", "color": "#222", "offset": -19, "anchor": "middle"},
 "layer": [
  {"data": {"name": "b"}, "mark": {"type": "line"},
   "encoding": {"x": {"field": "x", "type": "quantitative", "scale": {"domain": [0, 1]}, "axis": {"values": [0,0.2,0.4,0.6,0.8,1], "format": "~g", "title": "Core Diameter [μm]", "titlePadding": 3}},
    "y": {"field": "y", "type": "quantitative", "scale": {"domain": [0, 20]}, "axis": {"values": [0,5,10,15,20], "title": "Purcell Factor", "titlePadding": -1}},
    "color": {"field": "s", "type": "nominal", "scale": {"domain": ["g","r","b","m","k"], "range": ["#55b740","#e8212b","#3651a3","#d64ca6","#1c1c1c"]}, "legend": null}}},
  {"data": {"values": [{"x":0.247,"y":17.7},{"x":0.6,"y":17.7},{"x":0.947,"y":17.7}]},
   "mark": {"type": "point", "shape": "triangle-down", "filled": true, "color": "#e8212b", "size": 121, "opacity": 1},
   "encoding": {"x": {"field": "x", "type": "quantitative", "scale": {"domain": [0, 1]}, "axis": {"orient": "top", "labels": false, "title": null, "values": [0,0.2,0.4,0.6,0.8,1]}},
    "y": {"field": "y", "type": "quantitative", "scale": {"domain": [0, 20]}, "axis": {"orient": "right", "labels": false, "title": null, "values": [0,5,10,15,20]}}}},
  {"data": {"values": [{}]}, "mark": {"type": "text", "text": "(b)", "align": "left", "baseline": "bottom", "font": "Roboto", "fontStyle": "italic", "fontSize": 17, "dy": -2, "color": "#000"},
   "encoding": {"x": {"datum": 0, "axis": null}, "y": {"datum": 20, "axis": null}}}
 ],
 "resolve": {"axis": {"x": "independent", "y": "independent"}}
},
{
 "width": 296, "height": 226,
 "title": {"text": "ẑ oriented MD", "font": "Liberation Serif", "fontSize": 15, "fontWeight": "normal", "color": "#222", "offset": -17, "anchor": "middle"},
 "layer": [
  {"data": {"name": "e"}, "mark": {"type": "line"},
   "encoding": {"x": {"field": "x", "type": "quantitative", "scale": {"domain": [0, 1]}, "axis": {"values": [0,0.2,0.4,0.6,0.8,1], "format": "~g", "title": "Core Diameter [μm]", "titlePadding": 6}},
    "y": {"field": "y", "type": "quantitative", "scale": {"domain": [0, 3]}, "axis": {"values": [0,1,2,3], "title": "Purcell Factor", "titlePadding": 11}},
    "color": {"field": "s", "type": "nominal", "scale": {"domain": ["g","r","b","m","k"], "range": ["#55b740","#e8212b","#3651a3","#d64ca6","#1c1c1c"]}, "legend": null}}},
  {"data": {"values": [{"x":0.246,"y":2.91},{"x":0.398,"y":2.91},{"x":0.525,"y":2.91},{"x":0.621,"y":2.91},{"x":0.747,"y":2.91},{"x":0.885,"y":2.91}]},
   "mark": {"type": "point", "shape": "triangle-down", "filled": false, "color": "#e8212b", "size": 90, "strokeWidth": 1.4, "opacity": 1},
   "encoding": {"x": {"field": "x", "type": "quantitative", "scale": {"domain": [0, 1]}, "axis": {"orient": "top", "labels": false, "title": null, "values": [0,0.2,0.4,0.6,0.8,1]}},
    "y": {"field": "y", "type": "quantitative", "scale": {"domain": [0, 3]}, "axis": {"orient": "right", "labels": false, "title": null, "values": [0,1,2,3]}}}},
  {"data": {"values": [{"x":0.214,"y":2.27},{"x":0.387,"y":2.47},{"x":0.524,"y":2.51}]},
   "mark": {"type": "point", "shape": "M0,-1L0,1M-0.87,-0.5L0.87,0.5M-0.87,0.5L0.87,-0.5", "filled": false, "color": "#e8212b", "size": 70, "strokeWidth": 1, "opacity": 1},
   "encoding": {"x": {"field": "x", "type": "quantitative", "axis": null}, "y": {"field": "y", "type": "quantitative", "axis": null}}},
  {"data": {"values": [{}]}, "mark": {"type": "text", "text": "(e)", "align": "left", "baseline": "bottom", "font": "Roboto", "fontStyle": "italic", "fontSize": 17, "dy": -2, "color": "#000"},
   "encoding": {"x": {"datum": 0, "axis": null}, "y": {"datum": 3, "axis": null}}}
 ],
 "resolve": {"axis": {"x": "independent", "y": "independent"}}
}
]
}
